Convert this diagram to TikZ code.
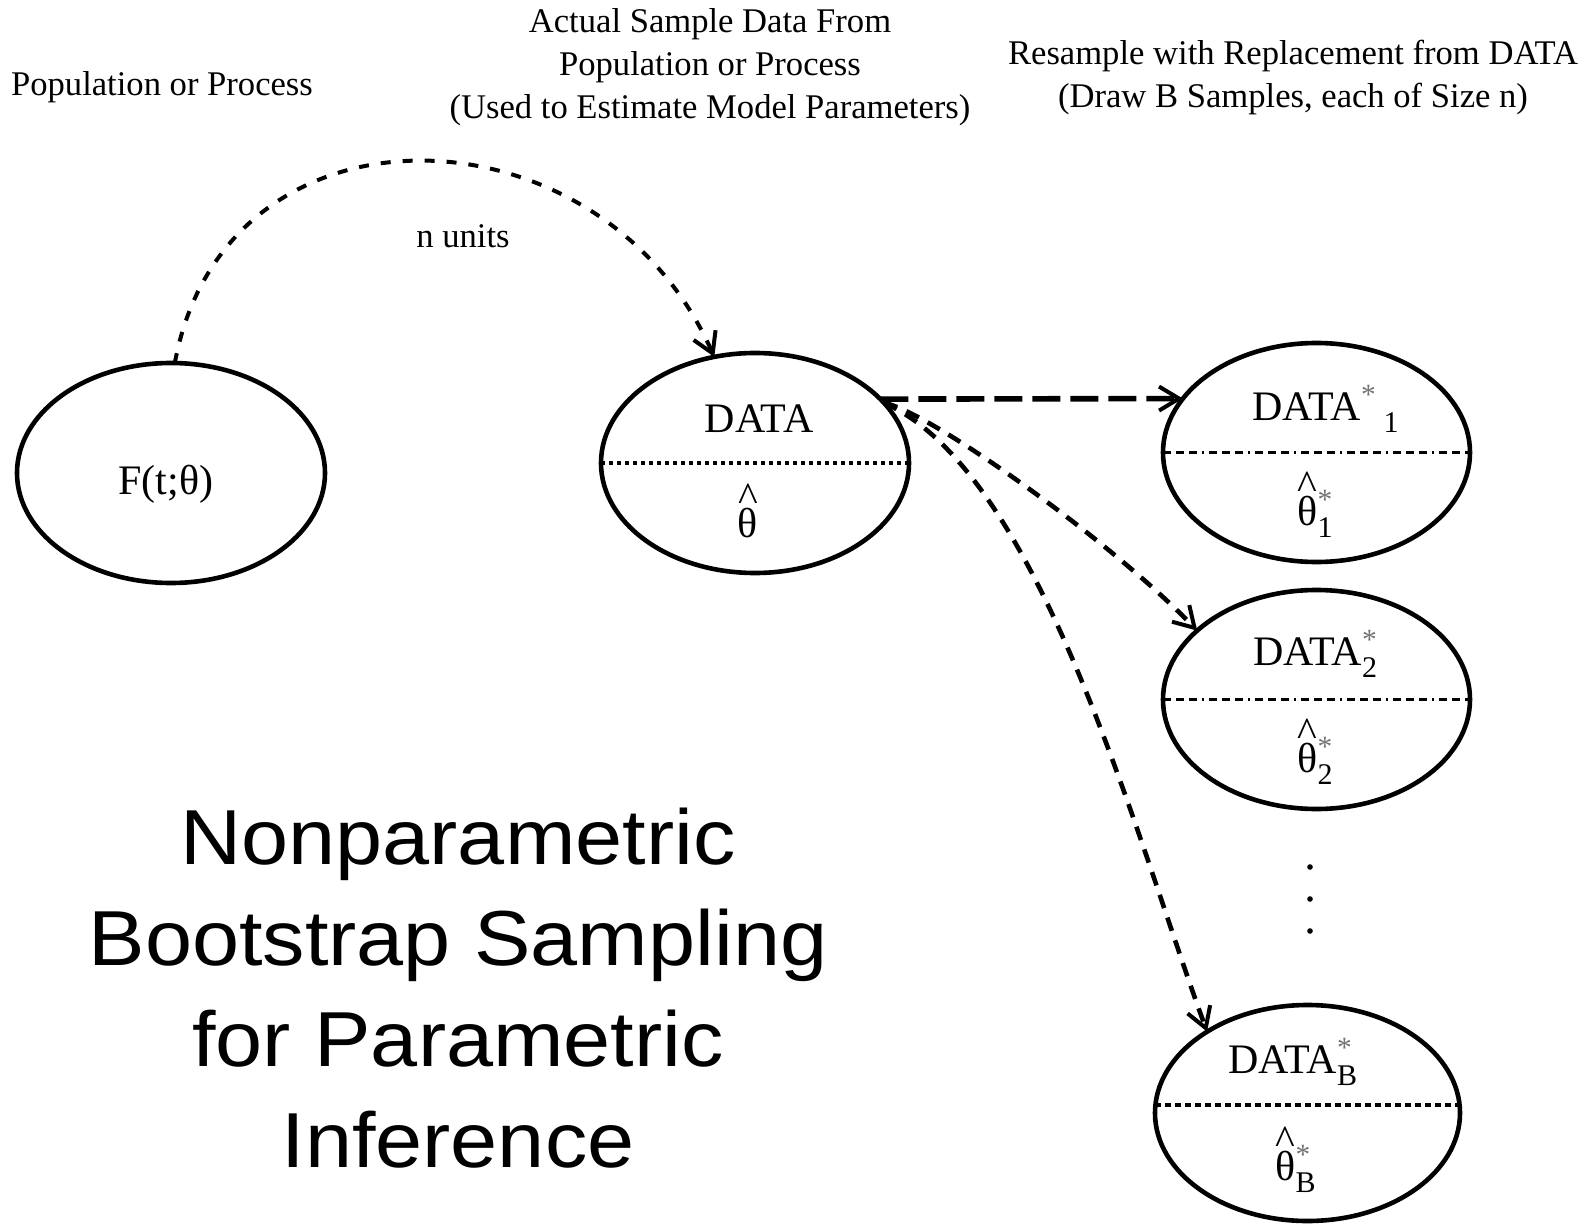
\documentclass[tikz,border=0pt]{standalone}
\usepackage{fontspec}
\setmainfont{Liberation Serif}
\newfontfamily\titlefont[FakeStretch=1.085]{Liberation Sans}
\usetikzlibrary{shapes.geometric,arrows.meta}
\newcommand{\hth}{\leavevmode\vbox{\offinterlineskip\halign{\hfil##\hfil\cr\symbol{94}\cr\noalign{\kern-0.1em}θ\cr}}}
\newcommand{\sstar}{\textcolor{black!55}{*}}
\newcommand{\lsub}[1]{\raisebox{-0.3em}{\fontsize{15pt}{15pt}\selectfont #1}}
\tikzset{
  ell/.style={ellipse, draw, line width=2.3pt, inner sep=0pt, outer sep=0pt},
  lbl/.style={font=\fontsize{17.3pt}{21.5pt}\selectfont, inner sep=0pt, align=center},
  etxt/.style={font=\fontsize{21pt}{25pt}\selectfont, inner sep=0pt, anchor=base west},
  conn/.style={line width=2.3pt, dash pattern=on 7pt off 5pt,
    -{Straight Barb[length=10pt,width=12pt,line width=2pt]}},
  connh/.style={conn, line width=2.8pt, dash pattern=on 14pt off 5pt},
  conna/.style={conn, line width=2pt, dash pattern=on 5pt off 6pt},
  divthick/.style={line width=2pt, dash pattern=on 2pt off 2pt},
  divthin/.style={line width=1.2pt, dash pattern=on 4pt off 2.5pt on 4pt off 2.5pt on 4pt off 2.5pt on 1pt off 2.5pt},
}
\begin{document}
\begin{tikzpicture}[x=0.5pt,y=-0.5pt]
\fill[white] (0,0) rectangle (1585,1225);
\useasboundingbox (0,0) rectangle (1585,1225);

% ellipses
\node[ell, minimum width=154pt, minimum height=110pt] (F) at (171,473) {};
\node[ell, minimum width=154pt, minimum height=110pt] (DATA) at (755,463) {};
\node[ell, minimum width=153.5pt, minimum height=109.5pt] (D1) at (1316.5,452.5) {};
\node[ell, minimum width=153.5pt, minimum height=109.5pt] (D2) at (1316.5,699.5) {};
\node[ell, minimum width=152.5pt, minimum height=108pt] (DB) at (1307.5,1113) {};

% dividers
\draw[divthick] (DATA.west) -- (DATA.east);
\draw[divthin] (D1.west) -- (D1.east);
\draw[divthin] (D2.west) -- (D2.east);
\draw[divthick, dash pattern=on 3pt off 2pt] ([yshift=4pt]DB.west) -- ([yshift=4pt]DB.east);

% ellipse texts
\node[etxt, anchor=base] (Ftxt) at (166,494) {F(t;θ)};
\node[etxt, anchor=base] (DATAtxt) at (759,432) {DATA};
\node[etxt, anchor=base] (DATAth) at (748,537) {\hth};
\node[etxt] (D1txt) at (1252,420) {DATA\textsuperscript{\sstar}\,\lsub{1}};
\node[etxt] (D1th) at (1297,525) {\hth\rlap{\textsuperscript{\sstar}}\lsub{1}};
\node[etxt] (D2txt) at (1253,665) {DATA\rlap{\textsuperscript{\sstar}}\lsub{2}};
\node[etxt] (D2th) at (1297,772) {\hth\rlap{\textsuperscript{\sstar}}\lsub{2}};
\node[etxt] (DBtxt) at (1228,1073) {DATA\rlap{\textsuperscript{\sstar}}\lsub{B}};
\node[etxt] (DBth) at (1275,1180) {\hth\rlap{\textsuperscript{\sstar}}\lsub{B}};

% labels
\node[lbl, anchor=base] (pop) at (162,96) {Population or Process};
\node[lbl, anchor=base] (actual) at (710,119) {Actual Sample Data From\\Population or Process\\(Used to Estimate Model Parameters)};
\node[lbl, anchor=base] (resample) at (1293,108) {Resample with Replacement from DATA\\(Draw B Samples, each of Size n)};
\node[lbl, anchor=base] (nunits) at (463,248) {n units};

% title
\node[font=\titlefont\fontsize{39pt}{50.5pt}\selectfont, align=center, inner sep=0pt] (title) at (458,988)
  {Nonparametric\\Bootstrap Sampling\\for Parametric\\Inference};

% connectors
\draw[conna] (F.88) .. controls (225,90) and (600,100) .. (DATA.111);
\draw[connh] (DATA.27) -- (D1.158);
\draw[conn] (DATA.25) .. controls (930,412) and (1110,540) .. (D2.150);
\draw[conn] (DATA.25) .. controls (1040,472) and (1135,836) .. (DB.141);

% dots
\fill (1310,867) circle[radius=1.4pt];
\fill (1310,899) circle[radius=1.4pt];
\fill (1310,931) circle[radius=1.4pt];
\end{tikzpicture}
\end{document}
